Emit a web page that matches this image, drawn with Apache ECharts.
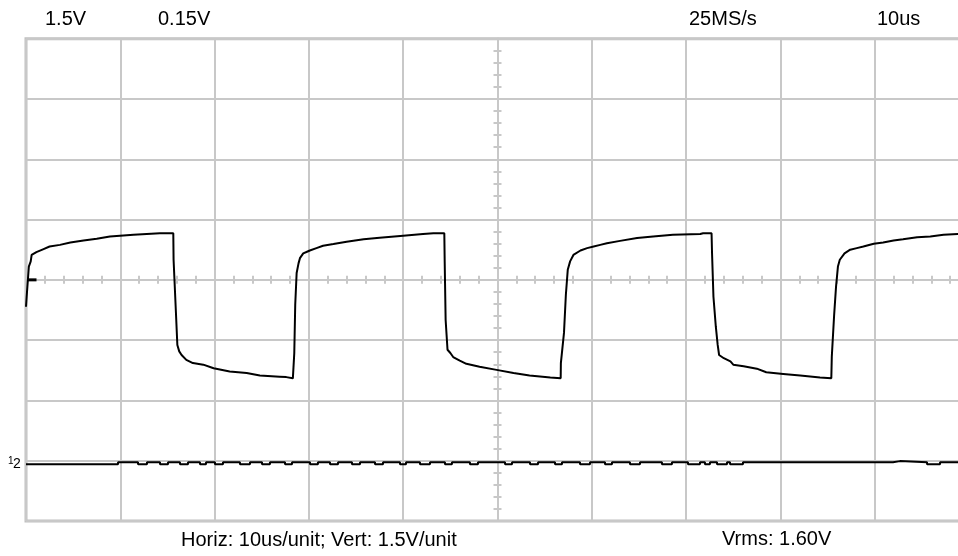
<!DOCTYPE html>
<html>
<head>
<meta charset="utf-8">
<script src="https://cdn.jsdelivr.net/npm/echarts@6/dist/echarts.min.js"></script>
<style>
html,body{margin:0;padding:0;background:#fff;}
#chart{width:958px;height:556px;}
</style>
</head>
<body>
<div id="chart"></div>
<script>
// Channel 1: time (µs, trigger at centre) and voltage (V)
var ch1Times = [-50.0,-49.93,-49.75,-49.7,-49.5,-49.4,-48.9,-48.2,-47.5,-46.4,-45.3,-43.9,-42.5,-41.1,-38.6,-35.8,-34.38,
  -34.35,-34.1,-33.95,-33.75,-33.5,-33.0,-32.3,-31.2,-30.1,-28.4,-26.6,-25.2,-23.1,-22.4,-21.7,-21.58,
  -21.55,-21.45,-21.3,-21.1,-20.95,-20.6,-20.2,-19.9,-19.2,-18.5,-17.4,-16.0,-14.2,-12.5,-10.0,-7.9,-6.8,-5.64,
  -5.6,-5.5,-5.3,-5.0,-4.7,-4.0,-3.3,-1.9,-0.1,1.7,3.4,5.6,6.7,
  6.72,7.05,7.25,7.45,7.7,8.05,8.8,9.5,10.2,10.9,11.6,13.0,14.8,16.5,18.6,21.5,21.8,22.7,
  22.75,22.9,23.15,23.35,23.5,24.0,24.7,25.0,26.1,27.5,28.5,30.3,32.1,34.2,35.4,
  35.45,35.7,35.9,36.1,36.3,36.8,37.4,38.1,38.8,39.9,40.9,42.0,43.0,44.5,45.9,47.3,48.8,50.0];
var ch1Volts = [-0.67,-0.42,-0.40,0.33,0.46,0.62,0.69,0.76,0.83,0.87,0.93,0.98,1.02,1.08,1.12,1.16,1.16,
  0.50,-0.82,-1.62,-1.78,-1.87,-1.99,-2.07,-2.11,-2.20,-2.28,-2.32,-2.38,-2.41,-2.42,-2.45,-2.45,
  -1.82,-0.62,0.17,0.41,0.54,0.66,0.70,0.73,0.79,0.85,0.89,0.95,1.01,1.05,1.10,1.14,1.16,1.16,
  0.45,-1.00,-1.74,-1.82,-1.92,-2.01,-2.09,-2.16,-2.24,-2.32,-2.38,-2.43,-2.45,
  -2.07,-1.32,-0.37,0.25,0.46,0.62,0.73,0.79,0.83,0.87,0.91,0.97,1.04,1.08,1.12,1.14,1.16,1.16,
  0.67,-0.42,-1.16,-1.62,-1.87,-1.95,-2.03,-2.11,-2.15,-2.21,-2.30,-2.34,-2.38,-2.43,-2.45,
  -1.91,-0.87,-0.17,0.33,0.50,0.66,0.75,0.79,0.83,0.90,0.93,0.98,1.01,1.06,1.08,1.12,1.14,1.15];

// Channel 2: times (µs) at which the sampled level changes, and the level (V)
var ch2Times = [-50,-40.24,-38.12,-37.17,-35.79,-34.94,-33.67,-32.82,-31.55,-30.91,-29.96,-29.11,-27.31,-26.25,
  -24.97,-24.13,-22.53,-21.79,-19.88,-19.04,-17.76,-16.91,-15.43,-14.58,-12.99,-12.14,-10.34,-9.70,-8.22,-7.16,
  -5.57,-4.83,-2.92,-2.07,0.80,1.54,3.45,4.30,6.10,6.84,8.75,9.81,11.40,12.14,14.05,15.11,17.44,18.50,
  20.20,21.47,22.00,22.53,23.28,24.34,24.66,26.03,41.94,42.68,45.55,46.93,50];
var ch2Volts = [-0.009,-0.004,-0.009,-0.004,-0.009,-0.004,-0.009,-0.004,-0.009,-0.004,-0.009,-0.004,-0.009,-0.004,
  -0.009,-0.004,-0.009,-0.004,-0.009,-0.004,-0.009,-0.004,-0.009,-0.004,-0.009,-0.004,-0.009,-0.004,-0.009,-0.004,
  -0.009,-0.004,-0.009,-0.004,-0.009,-0.004,-0.009,-0.004,-0.009,-0.004,-0.009,-0.004,-0.009,-0.004,-0.009,-0.004,-0.009,-0.004,
  -0.009,-0.004,-0.009,-0.004,-0.009,-0.004,-0.009,-0.004,-0.001,-0.004,-0.009,-0.004,-0.004];

// Scope settings / labels
var ch1Scale = '1.5V';
var ch2Scale = '0.15V';
var sampleRate = '25MS/s';
var timeBase = '10us';
var footerLeft = 'Horiz: 10us/unit; Vert: 1.5V/unit';
var footerRight = 'Vrms: 1.60V';

var ch1Data = ch1Times.map(function (t, i) { return [t, ch1Volts[i]]; });
var ch2Data = ch2Times.map(function (t, i) { return [t, ch2Volts[i]]; });

var gridCol = '#c8c8c8';
var FONT = '"Liberation Sans", Arial, sans-serif';

var chart = echarts.init(document.getElementById('chart'), null, {renderer: 'canvas'});

function centreAxisX(pos, idx) {
  return {
    type: 'value', position: pos, min: -50, max: 50, interval: 10,
    axisLine: {show: true, onZero: true, onZeroAxisIndex: 0, lineStyle: {color: gridCol, width: 2}},
    axisTick: {show: false},
    minorTick: {show: true, splitNumber: 5, length: 4, lineStyle: {color: gridCol, width: 2}},
    axisLabel: {show: false},
    splitLine: {show: idx === 0, lineStyle: {color: gridCol, width: 2}},
    minorSplitLine: {show: false}
  };
}

var option = {
  animation: false,
  backgroundColor: '#ffffff',
  grid: {
    left: 26, top: 38.7, width: 943, height: 482.3,
    outerBoundsMode: 'none', containLabel: false,
    show: true, borderColor: '#c0c0c0', borderWidth: 3, backgroundColor: 'transparent'
  },
  xAxis: [centreAxisX('bottom', 0), centreAxisX('top', 1)],
  yAxis: [
    {
      type: 'value', position: 'left', min: -6, max: 6, interval: 1.5,
      axisLine: {show: true, onZero: true, lineStyle: {color: gridCol, width: 2}},
      axisTick: {show: false},
      minorTick: {show: true, splitNumber: 5, length: 4, lineStyle: {color: gridCol, width: 2}},
      axisLabel: {show: false},
      splitLine: {show: true, lineStyle: {color: gridCol, width: 2}}
    },
    {
      type: 'value', position: 'right', min: -0.15, max: 1.05, interval: 0.15,
      axisLine: {show: true, onZero: true, lineStyle: {color: gridCol, width: 2}},
      axisTick: {show: false},
      minorTick: {show: true, splitNumber: 5, length: 4, lineStyle: {color: gridCol, width: 2}},
      axisLabel: {show: false},
      splitLine: {show: false}
    }
  ],
  series: [
    {
      name: 'CH1', type: 'line', xAxisIndex: 0, yAxisIndex: 0,
      data: ch1Data, showSymbol: false, symbol: 'none',
      lineStyle: {color: '#000', width: 2}, z: 5,
      markPoint: {
        symbol: 'rect', symbolSize: [9, 3], symbolOffset: [6, 0], silent: true,
        itemStyle: {color: '#000'}, label: {show: false},
        data: [{coord: [-50, 0]}]
      }
    },
    {
      name: 'CH2', type: 'line', xAxisIndex: 0, yAxisIndex: 1,
      data: ch2Data, showSymbol: false, symbol: 'none', step: 'end',
      lineStyle: {color: '#000', width: 2}, z: 5
    }
  ],
  graphic: [
    {type: 'text', style: {text: ch1Scale, x: 45, y: 19.5, verticalAlign: 'middle', align: 'left', font: '20px ' + FONT, fill: '#000'}},
    {type: 'text', style: {text: ch2Scale, x: 158, y: 19.5, verticalAlign: 'middle', align: 'left', font: '20px ' + FONT, fill: '#000'}},
    {type: 'text', style: {text: sampleRate, x: 689, y: 19.5, verticalAlign: 'middle', align: 'left', font: '20px ' + FONT, fill: '#000'}},
    {type: 'text', style: {text: timeBase, x: 877, y: 19.5, verticalAlign: 'middle', align: 'left', font: '20px ' + FONT, fill: '#000'}},
    {type: 'text', style: {text: footerLeft, x: 181, y: 540.5, verticalAlign: 'middle', align: 'left', font: '20px ' + FONT, fill: '#000'}},
    {type: 'text', style: {text: footerRight, x: 722, y: 539.5, verticalAlign: 'middle', align: 'left', font: '20px ' + FONT, fill: '#000'}},
    {type: 'text', style: {text: '1', x: 8, y: 461, verticalAlign: 'middle', align: 'left', font: '10px ' + FONT, fill: '#000'}},
    {type: 'text', style: {text: '2', x: 13, y: 464, verticalAlign: 'middle', align: 'left', font: '14px ' + FONT, fill: '#000'}}
  ]
};
chart.setOption(option);
</script>
</body>
</html>
